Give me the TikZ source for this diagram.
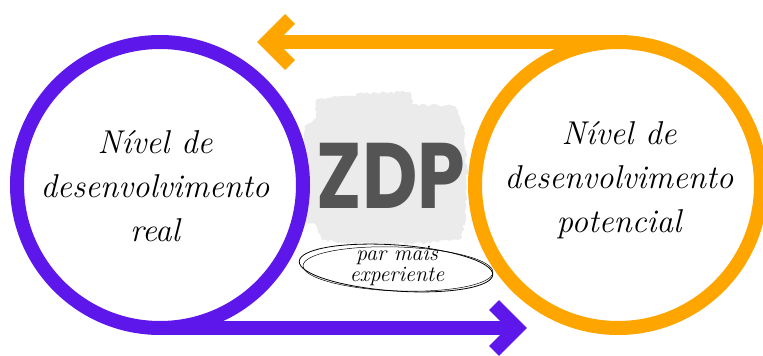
\documentclass[tikz,border=0pt]{standalone}
\usepackage{fontspec}
\usetikzlibrary{decorations.pathmorphing}
\newfontfamily\zdpfont{Poppins}
\definecolor{zpurple}{HTML}{5E17EB}
\definecolor{zorange}{HTML}{FFA500}
\definecolor{zgray}{HTML}{545454}
\definecolor{zbrush}{HTML}{EBEBEB}
\tikzset{
  ring/.style={circle, draw=#1, line width=14pt, minimum size=286pt, inner sep=0pt, outer sep=0pt},
  hand/.style={align=center, font=\fontsize{33}{44}\selectfont\itshape, text=black},
  small/.style={align=center, font=\fontsize{22}{21}\selectfont\itshape, text=black},
  flow/.style={line width=14pt, draw=#1},
  chev/.style={line width=14pt, draw=#1, miter limit=10},
  brush/.style={fill=zbrush, decorate, decoration={random steps, segment length=3pt, amplitude=1.5pt}}
}
\begin{document}
\begin{tikzpicture}[x=1pt,y=-1pt]
\useasboundingbox (0,0) rectangle (763,356);
% brush background
\path[brush] (316,100) .. controls (350,94) and (380,92) .. (410,92)
  -- (412,104) -- (455,106) -- (463,125)
  .. controls (468,160) and (468,200) .. (462,238)
  -- (430,243) .. controls (390,245) and (350,244) .. (322,240)
  -- (316,225) -- (300,222)
  .. controls (296,190) and (300,150) .. (306,125) -- (316,118) -- cycle;
% circles
\node[ring=zpurple] (L) at (160,185) {};
\node[ring=zorange] (R) at (618,185) {};
% connectors
\coordinate (ptip) at (517,328);
\coordinate (otip) at (267,42);
\draw[flow=zpurple] (L.south) -- (ptip);
\draw[chev=zpurple] (494,305) -- (ptip) -- (494,351);
\draw[flow=zorange] (R.north) -- (otip);
\draw[chev=zorange] (290,19) -- (otip) -- (290,65);
% texts
\node[hand] (LT) at (155,186) {Nível de\\desenvolvimento\\real};
\node[hand] (RT) at (619,180) {Nível de\\desenvolvimento\\potencial};
\node[text=zgray, font=\zdpfont\bfseries\fontsize{93}{93}\selectfont] (Z) at (391,176) {\scalebox{0.82}[1]{ZDP}};
% ellipse label
\node[small] (E) at (397,266) {par mais\\experiente};
\draw[black, line width=0.8pt, rotate around={-4:(396,268)}] (396,268) ellipse [x radius=97, y radius=23];
\draw[black, line width=0.5pt, rotate around={-2:(398,269)}] (398,269) ellipse [x radius=95, y radius=22];
\end{tikzpicture}
\end{document}
